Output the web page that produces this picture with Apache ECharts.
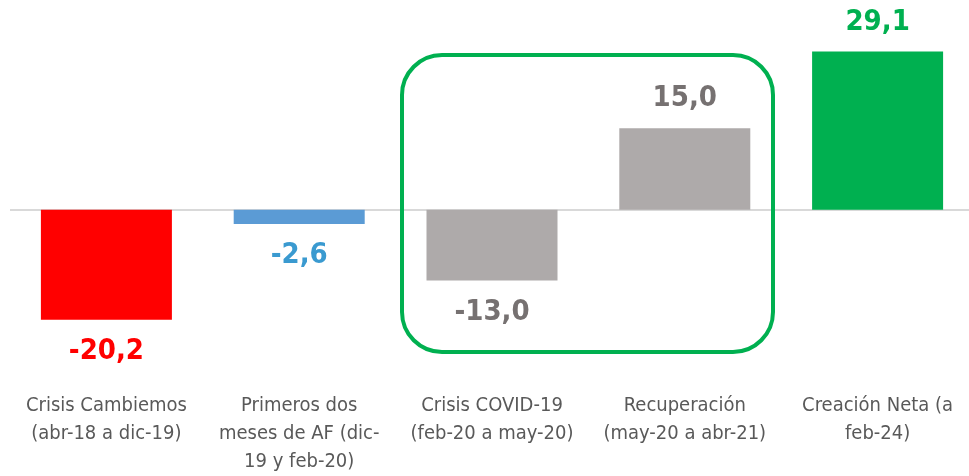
<!DOCTYPE html>
<html>
<head>
<meta charset="utf-8">
<script src="https://cdn.jsdelivr.net/npm/echarts@6/dist/echarts.min.js"></script>
<style>
  html, body { margin: 0; padding: 0; background: #fff; overflow: hidden; }
  #chart { width: 980px; height: 476px; }
</style>
</head>
<body>
<div id="chart"></div>
<script>
// Data
const categories = ['Crisis Cambiemos', 'Primeros dos meses de AF', 'Crisis COVID-19', 'Recuperación', 'Creación Neta'];
const tickLabels = [
  'Crisis Cambiemos\n(abr-18 a dic-19)',
  'Primeros dos\nmeses de AF (dic-\n19 y feb-20)',
  'Crisis COVID-19\n(feb-20 a may-20)',
  'Recuperación\n(may-20 a abr-21)',
  'Creación Neta (a\nfeb-24)'
];
const values = [-20.2, -2.6, -13.0, 15.0, 29.1];
const barColors = ['#FF0000', '#5B9BD5', '#AEAAAA', '#AEAAAA', '#00B050'];
const labelColors = ['#FF0000', '#3A9AD0', '#767171', '#767171', '#00B050'];

const FONT = "'Liberation Sans Narrow', 'DejaVu Sans Condensed', sans-serif";

const chart = echarts.init(document.getElementById('chart'), null, { renderer: 'canvas' });

const fmt = (v) => v.toFixed(1).replace('.', ',');

const option = {
  backgroundColor: '#fff',
  animation: false,
  grid: { left: 10, top: 19.4, width: 964, height: 365 },
  xAxis: {
    type: 'category',
    data: categories,
    axisLine: { show: false },
    axisTick: { show: false },
    axisLabel: {
      interval: 0,
      margin: 8,
      color: '#595959',
      fontSize: 20,
      lineHeight: 28,
      fontFamily: FONT,
      formatter: (v, i) => tickLabels[i]
    }
  },
  yAxis: {
    type: 'value',
    min: -32,
    max: 35,
    axisLabel: { show: false },
    axisLine: { show: false },
    axisTick: { show: false },
    splitLine: { show: false }
  },
  series: [{
    type: 'bar',
    barWidth: 131,
    data: values.map((v, i) => ({
      value: v,
      itemStyle: { color: barColors[i] },
      label: {
        show: true,
        position: v >= 0 ? 'top' : 'bottom',
        distance: v >= 0 ? 15 : 17,
        color: labelColors[i],
        fontSize: 29,
        fontWeight: 'bold',
        fontFamily: FONT,
        formatter: () => fmt(v)
      }
    })),
    markLine: {
      silent: true,
      symbol: 'none',
      z: 1,
      label: { show: false },
      lineStyle: { color: '#D9D9D9', width: 2, type: 'solid' },
      data: [{ yAxis: 0 }]
    }
  }],
  // highlight box around the COVID period
  graphic: [{
    type: 'rect',
    shape: { x: 402, y: 55, width: 371, height: 297, r: 40 },
    style: { fill: 'none', stroke: '#00B050', lineWidth: 4 },
    z: 10
  }]
};

chart.setOption(option);
</script>
</body>
</html>
